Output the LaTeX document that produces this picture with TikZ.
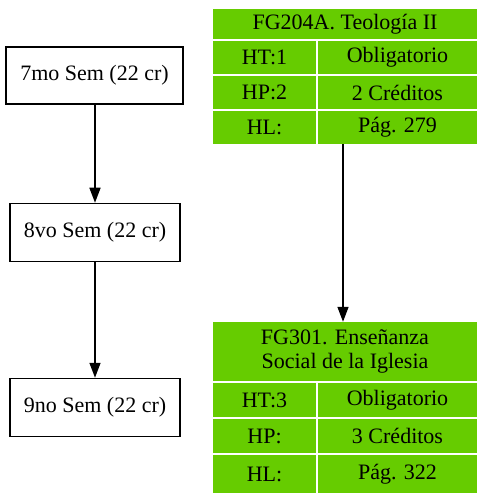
\documentclass[tikz,border=0pt]{standalone}
\usepackage{fontspec}
\setmainfont{Liberation Serif}
\usetikzlibrary{arrows.meta}
\definecolor{cellgreen}{HTML}{66CC00}
\tikzset{
  sem/.style={draw=black, line width=1.5pt, rectangle, inner sep=0pt, font=\fontsize{22}{24}\selectfont},
  cell/.style={fill=cellgreen, rectangle, inner sep=0pt, font=\fontsize{22}{24}\selectfont, align=center},
  frame/.style={rectangle, inner sep=0pt},
  arr/.style={line width=1.5pt, -{Triangle[length=15pt,width=11pt]}}
}
\begin{document}
\begin{tikzpicture}[x=1pt,y=-1pt]
\useasboundingbox (0,0) rectangle (483,502);
% semesters
\node[sem, minimum width=177pt, minimum height=57pt] (s7) at (94.5,75.5) {7mo Sem (22 cr)};
\node[sem, minimum width=170pt, minimum height=58pt] (s8) at (95,232.5) {8vo Sem (22 cr)};
\node[sem, minimum width=170pt, minimum height=58pt] (s9) at (95,407.5) {9no Sem (22 cr)};
\draw[arr] (s7.south -| s8.north) -- (s8.north);
\draw[arr] (s8) -- (s9);
% table 1
\node[frame, minimum width=264pt, minimum height=135pt] (tab1) at (345,76.5) {};
\node[cell, minimum width=264pt, minimum height=30pt] (t1h) at (345,24) {FG204A. Teología II};
\node[cell, minimum width=103pt, minimum height=33pt] (t1a) at (264.5,57.5) {HT:1};
\node[cell, minimum width=159pt, minimum height=33pt] (t1b) at (397.5,57.5) {Obligatorio};
\node[cell, minimum width=103pt, minimum height=33pt] (t1c) at (264.5,92.5) {HP:2};
\node[cell, minimum width=159pt, minimum height=33pt] (t1d) at (397.5,92.5) {2 Créditos};
\node[cell, minimum width=103pt, minimum height=33pt] (t1e) at (264.5,127.5) {HL:};
\node[cell, minimum width=159pt, minimum height=33pt] (t1f) at (397.5,127.5) {Pág. 279};
% table 2
\node[frame, minimum width=264pt, minimum height=171pt] (tab2) at (345,407.5) {};
\node[cell, minimum width=264pt, minimum height=59pt] (t2h) at (345,351.5) {FG301. Enseñanza\\Social de la Iglesia};
\node[cell, minimum width=103pt, minimum height=34pt] (t2a) at (264.5,400) {HT:3};
\node[cell, minimum width=159pt, minimum height=34pt] (t2b) at (397.5,400) {Obligatorio};
\node[cell, minimum width=103pt, minimum height=34pt] (t2c) at (264.5,436) {HP:};
\node[cell, minimum width=159pt, minimum height=34pt] (t2d) at (397.5,436) {3 Créditos};
\node[cell, minimum width=103pt, minimum height=38pt] (t2e) at (264.5,474) {HL:};
\node[cell, minimum width=159pt, minimum height=38pt] (t2f) at (397.5,474) {Pág. 322};
\draw[arr] ([xshift=-2pt]tab1.south) -- ([xshift=-2pt]tab2.north);
\end{tikzpicture}
\end{document}
